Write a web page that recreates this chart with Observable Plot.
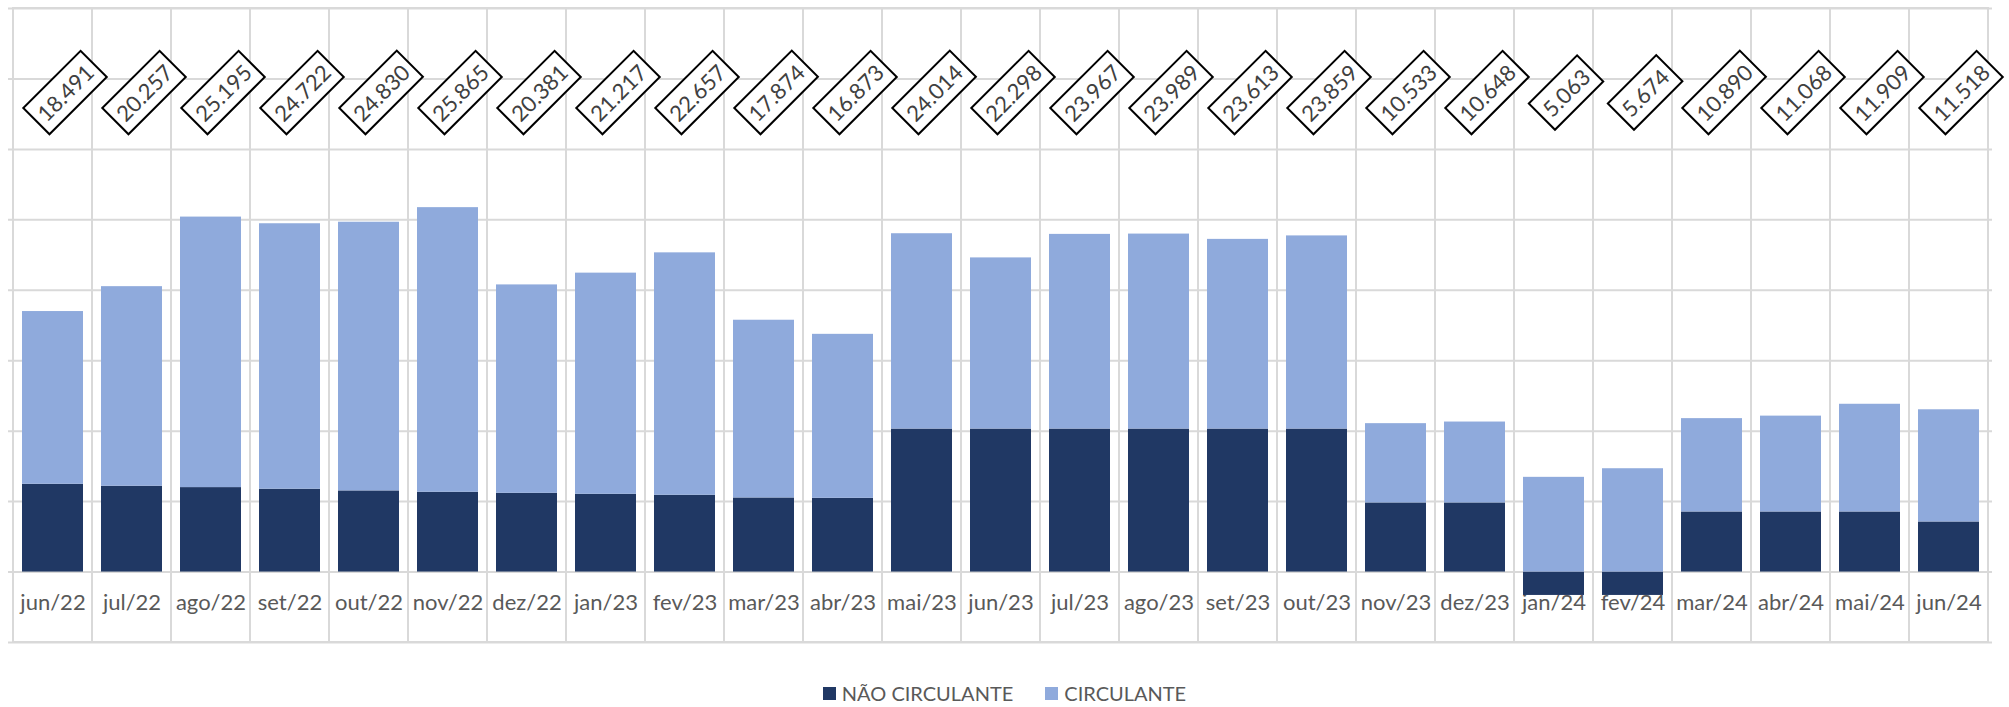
<!DOCTYPE html>
<html>
<head>
<meta charset="utf-8">
<script src="https://cdn.jsdelivr.net/npm/d3@7"></script>
<script src="https://cdn.jsdelivr.net/npm/@observablehq/plot@0.6"></script>
<style>
  html, body { margin: 0; padding: 0; background: #fff; }
  #wrap { position: relative; width: 2009px; height: 707px; font-family: Lato, "Open Sans", sans-serif; }
  #legend { position: absolute; left: 0; top: 681px; width: 2009px; height: 24px; display: flex; justify-content: center; align-items: center; font-size: 20px; color: #595959; }
  .item { display: flex; align-items: center; margin: 0 16px; }
  .sw { width: 13px; height: 13px; margin-right: 6px; }
</style>
</head>
<body>
<div id="wrap">
  <div id="chart"></div>
  <div id="legend"></div>
</div>
<script>
// ---- data ----
const months = ["jun/22","jul/22","ago/22","set/22","out/22","nov/22","dez/22","jan/23","fev/23","mar/23","abr/23","mai/23","jun/23","jul/23","ago/23","set/23","out/23","nov/23","dez/23","jan/24","fev/24","mar/24","abr/24","mai/24","jun/24"];
const naoCirculante = [6230,6090,5995,5880,5760,5665,5590,5520,5450,5260,5235,10150,10150,10150,10150,10150,10150,4905,4905,-1660,-1660,4265,4265,4265,3555];
const circulante = [12261,14167,19200,18842,19070,20200,14791,15697,17207,12614,11638,13864,12148,13817,13839,13463,13709,5628,5743,6723,7334,6625,6803,7644,7963];
const totals = [18491,20257,25195,24722,24830,25865,20381,21217,22657,17874,16873,24014,22298,23967,23989,23613,23859,10533,10648,5063,5674,10890,11068,11909,11518];
const seriesNames = ["NÃO CIRCULANTE", "CIRCULANTE"];
const seriesColors = ["#203864", "#8FAADC"];
const gridY = [-5000, 0, 5000, 10000, 15000, 20000, 25000, 30000, 35000, 40000];
const yDomain = [-5000, 40000];

// ---- build ----
const rows = months.flatMap((m, i) => [
  {month: m, serie: seriesNames[0], value: naoCirculante[i]},
  {month: m, serie: seriesNames[1], value: circulante[i]}
]);
const fmt = d3.formatLocale({decimal: ",", thousands: ".", grouping: [3], currency: ["R$", ""]}).format(",");

const plot = Plot.plot({
  width: 2009,
  height: 650,
  marginLeft: 8,
  marginRight: 17,
  marginTop: 8,
  marginBottom: 8,
  x: {domain: months, padding: 0, axis: null},
  y: {domain: yDomain, axis: null},
  color: {domain: seriesNames, range: seriesColors},
  style: {fontFamily: "Lato, 'Open Sans', sans-serif", background: "white", overflow: "visible"},
  marks: [
    Plot.ruleY(gridY, {stroke: "#d9d9d9", strokeWidth: 2}),
    Plot.barY(months, {x: d => d, y1: yDomain[0], y2: yDomain[1], fill: "none", stroke: "#d9d9d9", strokeWidth: 2}),
    Plot.text(months, {x: d => d, y: 0, dy: 31, text: d => d, fill: "#595959", fontSize: 22}),
    Plot.barY(rows, {x: "month", y: "value", fill: "serie", z: "serie", order: seriesNames, insetLeft: 9, insetRight: 9}),
    Plot.text(months, {x: d => d, frameAnchor: "top", dy: 79, dx: 7, rotate: -45, text: (d, i) => fmt(totals[i]), fill: "#404040", fontSize: 22, className: "totlab"})
  ]
});
document.getElementById("chart").appendChild(plot);

// boxes around total labels
d3.select(plot).selectAll("g.totlab text").each(function() {
  const b = this.getBBox();
  const padX = 6, padY = 5;
  const r = document.createElementNS("http://www.w3.org/2000/svg", "rect");
  r.setAttribute("x", b.x - padX);
  r.setAttribute("y", b.y - padY);
  r.setAttribute("width", b.width + 2 * padX);
  r.setAttribute("height", b.height + 2 * padY);
  r.setAttribute("fill", "white");
  r.setAttribute("stroke", "black");
  r.setAttribute("stroke-width", 2);
  const t = this.getAttribute("transform");
  if (t) r.setAttribute("transform", t);
  this.parentNode.insertBefore(r, this);
});

// legend
const legend = d3.select("#legend");
seriesNames.forEach((s, i) => {
  const it = legend.append("div").attr("class", "item");
  it.append("div").attr("class", "sw").style("background", seriesColors[i]);
  it.append("span").text(s);
});
</script>
</body>
</html>
